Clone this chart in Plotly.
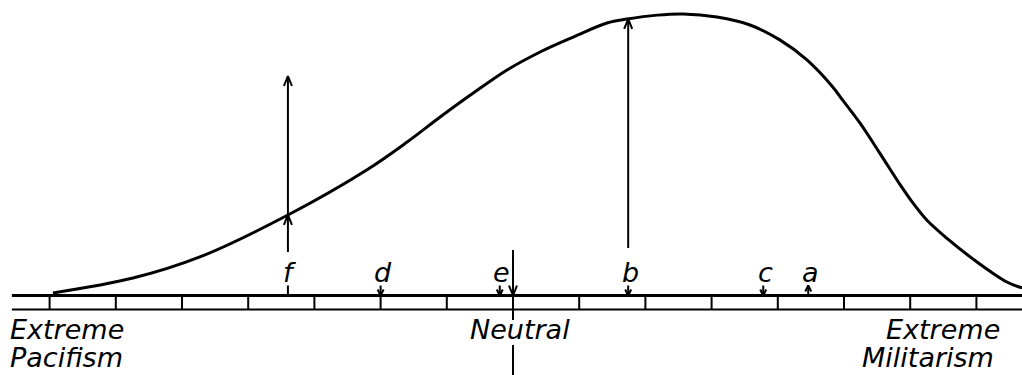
import numpy as np
import plotly.graph_objects as go

# distribution curve, opinion scale (-7 pacifism .. +7 militarism), height in % of peak
curve_x = [-6.95, -5.74, -4.73, -3.40, -2.21, -1.60, -1.10, -0.60, -0.09, 0.41,
           0.91, 1.42, 1.72, 2.18, 2.57, 3.08, 3.58, 4.03, 4.44, 4.83, 4.98, 5.24,
           5.54, 5.85, 6.04, 6.25, 6.56, 7.01, 7.46, 7.69]
curve_y = [0.9, 6.2, 13.7, 28.6, 44.6, 54.5, 63.4, 71.9, 80.1, 86.5,
           91.8, 96.8, 98.2, 99.6, 100.0, 98.9, 96.1, 90.8, 83.7, 74.1, 69.4, 61.3,
           50.6, 39.3, 32.9, 26.8, 20.2, 11.9, 4.8, 2.7]

scale_ticks = list(range(-7, 8))
scale_start, scale_end = -7.57, 7.75

# individual positions on the scale
point_labels = ["f", "d", "e", "b", "c", "a"]
point_pos = [-3.40, -2.00, -0.20, 1.74, 3.78, 4.46]
point_dir = ["none", "down", "down", "down", "down", "up"]
neutral_pos = 0.0

# pixel calibration (px per data unit) used for sizes only
X0, PX_X = 513, 66.2
Y0, PX_Y = 295.5, 2.815
W, H = 1022, 375
BAR_H = -14 / PX_Y
INK = "black"
FONT = dict(family="DejaVu Sans", size=27, color=INK, style="italic")


def chevron(u, h, up=True, w=4, l=10):
    dx = w / PX_X
    dy = (-l if up else l) / PX_Y
    return [u - dx, u, u + dx, None], [h + dy, h, h + dy, None]


def curve_at(u):
    return float(np.interp(u, curve_x, curve_y))


def label(text, px, py, xanchor="left"):
    fig.add_annotation(x=px / W, y=1 - py / H, xref="paper", yref="paper", text=text,
                       showarrow=False, xanchor=xanchor, yanchor="top", font=FONT)


fig = go.Figure()

# curve
fig.add_trace(go.Scatter(x=curve_x, y=curve_y, mode="lines",
                         line=dict(color=INK, width=3, shape="spline", smoothing=1.0),
                         hoverinfo="skip"))

# scale bar
bx, by = [], []
for t in scale_ticks:
    bx += [t, t, None]
    by += [0, BAR_H, None]
fig.add_trace(go.Scatter(x=[scale_start, scale_end], y=[0, 0], mode="lines",
                         line=dict(color=INK, width=3), hoverinfo="skip"))
fig.add_trace(go.Scatter(x=[scale_start, scale_end], y=[BAR_H, BAR_H], mode="lines",
                         line=dict(color=INK, width=2), hoverinfo="skip"))
fig.add_trace(go.Scatter(x=bx, y=by, mode="lines",
                         line=dict(color=INK, width=2), hoverinfo="skip"))

# marks on the scale
lx, ly = [], []
small = 10 / PX_Y
for lab, u, d in zip(point_labels, point_pos, point_dir):
    lx += [u, u, None]
    ly += [0, small, None]
    if d == "down":
        cx, cy = chevron(u, 0, up=False, w=3, l=6)
    elif d == "up":
        cx, cy = chevron(u, small, up=True, w=3, l=6)
    else:
        cx, cy = [], []
    lx += cx
    ly += cy
    fig.add_annotation(x=u + 2 / PX_X, y=2.0, text=lab, showarrow=False, xanchor="center",
                       yanchor="bottom", font=FONT)

# long arrows for f and b
f_u, b_u = point_pos[0], point_pos[3]
f_lo, f_top = (Y0 - 252) / PX_Y, (Y0 - 76) / PX_Y
lx += [f_u, f_u, None]
ly += [f_lo, f_top, None]
for h in (curve_at(f_u), f_top):
    cx, cy = chevron(f_u, h, up=True)
    lx += cx
    ly += cy
b_lo, b_top = (Y0 - 248) / PX_Y, curve_at(b_u)
lx += [b_u, b_u, None]
ly += [b_lo, b_top, None]
cx, cy = chevron(b_u, b_top, up=True)
lx += cx
ly += cy

# neutral pointer
lx += [neutral_pos, neutral_pos, None, neutral_pos, neutral_pos, None]
ly += [(Y0 - 250) / PX_Y, (Y0 - 320) / PX_Y, None, (Y0 - 345) / PX_Y, (Y0 - 380) / PX_Y, None]
cx, cy = chevron(neutral_pos, 0, up=False)
lx += cx
ly += cy

fig.add_trace(go.Scatter(x=lx, y=ly, mode="lines",
                         line=dict(color=INK, width=2), hoverinfo="skip"))

label("Extreme", 8, 312)
label("Pacifism", 8, 340)
label("Neutral", 468, 312)
label("Extreme", 1002, 312, xanchor="right")
label("Militarism", 996, 340, xanchor="right")

fig.update_layout(
    width=W, height=H,
    margin=dict(l=0, r=0, t=0, b=0),
    paper_bgcolor="white", plot_bgcolor="white",
    showlegend=False,
    xaxis=dict(range=[-X0 / PX_X, (W - X0) / PX_X], visible=False, fixedrange=True),
    yaxis=dict(range=[(Y0 - H) / PX_Y, Y0 / PX_Y], visible=False, fixedrange=True),
)

fig.write_html("out.html", config={"displayModeBar": False},
               post_script="document.body.style.margin='0';")
